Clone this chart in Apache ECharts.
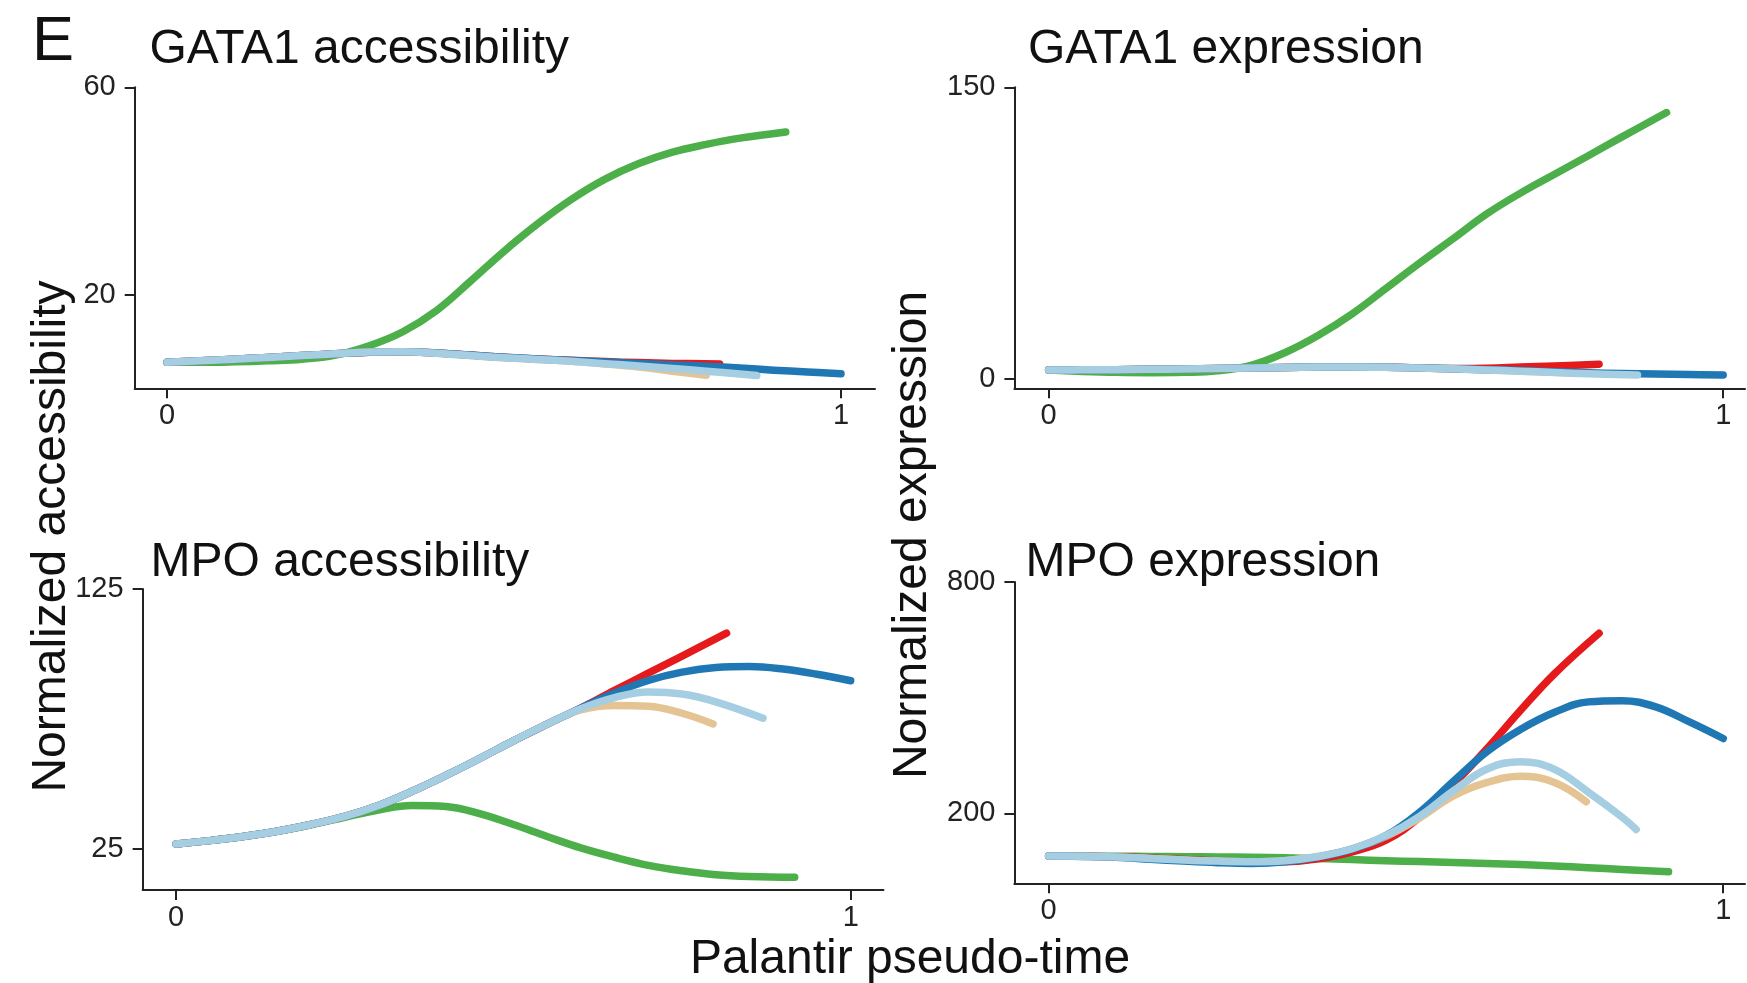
<!DOCTYPE html>
<html><head><meta charset="utf-8">
<script src="https://cdn.jsdelivr.net/npm/echarts@6/dist/echarts.min.js"></script>
<style>html,body{margin:0;padding:0;background:#fff}#c{width:1747px;height:983px}</style>
</head><body><div id="c"></div>
<script>
// ---------- DATA ----------
const xTicks = [0, 1];
const xTickLabels = ['0', '1'];

// GATA1 accessibility
const gata1AccTicks = [20, 60];
const gata1AccGreen = [[0,7.0],[0.05,7.0],[0.1,7.1],[0.15,7.3],[0.2,7.6],[0.25,8.4],[0.3,10.2],[0.35,12.9],[0.4,17.0],[0.45,22.6],[0.5,28.4],[0.55,33.7],[0.6,38.4],[0.65,42.3],[0.7,45.3],[0.75,47.5],[0.8,49.0],[0.85,50.2],[0.918,51.4]];
const gata1AccRed = [[0,7.0],[0.05,7.3],[0.1,7.6],[0.15,7.95],[0.2,8.3],[0.25,8.65],[0.3,8.95],[0.35,9.05],[0.4,8.8],[0.45,8.4],[0.5,8.0],[0.55,7.65],[0.6,7.4],[0.65,7.15],[0.7,6.95],[0.75,6.8],[0.82,6.7]];
const gata1AccTan = [[0,7.0],[0.05,7.3],[0.1,7.6],[0.15,7.95],[0.2,8.3],[0.25,8.65],[0.3,9.0],[0.35,9.05],[0.4,8.75],[0.45,8.3],[0.5,7.9],[0.55,7.55],[0.6,7.2],[0.65,6.7],[0.7,6.1],[0.75,5.3],[0.8,4.5]];
const gata1AccBlue = [[0,7.0],[0.05,7.3],[0.1,7.6],[0.15,7.95],[0.2,8.3],[0.25,8.65],[0.3,8.95],[0.35,9.05],[0.4,8.8],[0.45,8.4],[0.5,8.0],[0.55,7.65],[0.6,7.35],[0.65,7.05],[0.7,6.8],[0.75,6.5],[0.8,6.25],[0.85,5.9],[0.9,5.5],[0.95,5.15],[1.0,4.8]];
const gata1AccLightBlue = [[0,7.0],[0.05,7.3],[0.1,7.6],[0.15,7.95],[0.2,8.3],[0.25,8.65],[0.3,9.0],[0.35,9.05],[0.4,8.75],[0.45,8.3],[0.5,7.9],[0.55,7.55],[0.6,7.2],[0.65,6.75],[0.7,6.3],[0.75,5.8],[0.8,5.3],[0.875,4.45]];

// GATA1 expression
const gata1ExpTicks = [0, 150];
const gata1ExpGreen = [[0,4.6],[0.05,3.9],[0.1,3.4],[0.15,3.2],[0.2,3.4],[0.25,4.2],[0.3,7.0],[0.35,13.5],[0.4,22.5],[0.45,33.5],[0.5,46.5],[0.55,59.6],[0.6,72.2],[0.65,85.0],[0.7,95.7],[0.75,105.3],[0.8,114.8],[0.85,124.5],[0.916,137.0]];
const gata1ExpRed = [[0,4.6],[0.05,4.7],[0.1,4.8],[0.15,4.95],[0.2,5.1],[0.25,5.35],[0.3,5.6],[0.35,5.85],[0.4,6.1],[0.45,6.2],[0.5,6.0],[0.55,5.7],[0.6,5.4],[0.65,5.5],[0.7,6.1],[0.75,6.7],[0.816,7.6]];
const gata1ExpTan = [[0,4.6],[0.05,4.7],[0.1,4.8],[0.15,4.95],[0.2,5.1],[0.25,5.35],[0.3,5.6],[0.35,5.85],[0.4,6.1],[0.45,6.2],[0.5,6.0],[0.55,5.6],[0.6,5.2],[0.65,4.6],[0.7,4.0],[0.75,3.4],[0.8,2.9]];
const gata1ExpBlue = [[0,4.6],[0.05,4.7],[0.1,4.8],[0.15,4.95],[0.2,5.1],[0.25,5.35],[0.3,5.6],[0.35,5.85],[0.4,6.1],[0.45,6.2],[0.5,6.0],[0.55,5.7],[0.6,5.3],[0.65,4.8],[0.7,4.3],[0.75,3.7],[0.8,3.2],[0.85,2.8],[0.9,2.5],[0.95,2.25],[1.0,2.1]];
const gata1ExpLightBlue = [[0,4.6],[0.05,4.7],[0.1,4.8],[0.15,4.95],[0.2,5.1],[0.25,5.35],[0.3,5.6],[0.35,5.85],[0.4,6.1],[0.45,6.2],[0.5,6.0],[0.55,5.6],[0.6,5.2],[0.65,4.6],[0.7,4.0],[0.75,3.3],[0.8,2.7],[0.873,2.1]];

// MPO accessibility
const mpoAccTicks = [25, 125];
const mpoAccGreen = [[0,26.9],[0.05,28.2],[0.1,29.8],[0.15,31.8],[0.2,34.3],[0.25,37.2],[0.3,40.0],[0.35,41.7],[0.4,41.3],[0.45,38.6],[0.5,34.4],[0.55,29.8],[0.6,25.4],[0.65,21.8],[0.7,18.7],[0.75,16.6],[0.8,15.1],[0.85,14.4],[0.917,14.1]];
const mpoAccRed = [[0,26.9],[0.05,28.2],[0.1,29.8],[0.15,31.8],[0.2,34.4],[0.25,37.5],[0.3,41.7],[0.35,47.2],[0.4,53.3],[0.45,59.8],[0.5,66.6],[0.55,73.0],[0.6,79.2],[0.65,86.0],[0.7,92.6],[0.75,99.2],[0.816,108.0]];
const mpoAccTan = [[0,26.9],[0.05,28.2],[0.1,29.8],[0.15,31.8],[0.2,34.4],[0.25,37.5],[0.3,41.7],[0.35,47.2],[0.4,53.3],[0.45,59.8],[0.5,66.6],[0.55,73.0],[0.6,78.5],[0.65,80.2],[0.7,79.9],[0.75,77.2],[0.796,73.1]];
const mpoAccBlue = [[0,26.9],[0.05,28.2],[0.1,29.8],[0.15,31.8],[0.2,34.4],[0.25,37.5],[0.3,41.7],[0.35,47.2],[0.4,53.3],[0.45,59.8],[0.5,66.6],[0.55,73.0],[0.6,79.2],[0.65,85.0],[0.7,89.8],[0.75,93.0],[0.8,94.8],[0.85,95.2],[0.9,94.2],[0.95,92.2],[1.0,89.7]];
const mpoAccLightBlue = [[0,26.9],[0.05,28.2],[0.1,29.8],[0.15,31.8],[0.2,34.4],[0.25,37.5],[0.3,41.7],[0.35,47.2],[0.4,53.3],[0.45,59.8],[0.5,66.6],[0.55,73.0],[0.6,78.9],[0.65,83.2],[0.7,85.4],[0.75,84.6],[0.8,81.6],[0.87,75.3]];

// MPO expression
const mpoExpTicks = [200, 800];
const mpoExpGreen = [[0,89],[0.05,89],[0.1,88.5],[0.15,88],[0.2,87.5],[0.25,86.8],[0.3,86],[0.35,84.5],[0.4,82.5],[0.45,80],[0.5,77],[0.55,74.8],[0.6,72.5],[0.65,70],[0.7,67],[0.75,63],[0.8,59],[0.85,54.5],[0.919,48.5]];
const mpoExpRed = [[0,89],[0.05,88.5],[0.1,87],[0.15,84],[0.2,80],[0.25,76],[0.3,73],[0.35,74],[0.4,82],[0.45,100],[0.5,130],[0.55,190],[0.6,275],[0.65,368],[0.7,468],[0.75,562],[0.816,667]];
const mpoExpTan = [[0,89],[0.05,88.5],[0.1,86.5],[0.15,83],[0.2,79],[0.25,76],[0.3,74.5],[0.35,77],[0.4,88],[0.45,108],[0.5,140],[0.55,188],[0.6,245],[0.65,280],[0.7,296],[0.75,280],[0.797,230]];
const mpoExpBlue = [[0,89],[0.05,88],[0.1,86],[0.15,81],[0.2,76],[0.25,72],[0.3,70],[0.35,74],[0.4,87],[0.45,107],[0.5,142],[0.55,203],[0.6,283],[0.65,360],[0.7,418],[0.75,462],[0.8,489],[0.85,492],[0.9,476],[0.95,437],[1.0,394]];
const mpoExpLightBlue = [[0,89],[0.05,88.5],[0.1,86.5],[0.15,83],[0.2,79],[0.25,76],[0.3,74.5],[0.35,77],[0.4,88],[0.45,108],[0.5,142],[0.55,192],[0.6,258],[0.65,315],[0.7,334],[0.75,314],[0.8,255],[0.85,190],[0.871,158]];

const lineColors = ['#4daf4a', '#e41a1c', '#e5c494', '#1f78b4', '#a6cee3'];
const panelTitles = ['GATA1 accessibility', 'GATA1 expression', 'MPO accessibility', 'MPO expression'];

// ---------- LAYOUT ----------
const FONT = '"Liberation Sans", Arial, Helvetica, sans-serif';
const panels = [
  { grid: {left: 134.7, top: 87.3, width: 740.3, height: 301}, x: [-0.0479, 1.0504], y: [2, 60], ticks: gata1AccTicks,
    lines: [gata1AccGreen, gata1AccRed, gata1AccTan, gata1AccBlue, gata1AccLightBlue] },
  { grid: {left: 1014.4, top: 87.3, width: 730.6, height: 301}, x: [-0.0507, 1.0323], y: [-4.8, 150], ticks: gata1ExpTicks,
    lines: [gata1ExpGreen, gata1ExpRed, gata1ExpTan, gata1ExpBlue, gata1ExpLightBlue] },
  { grid: {left: 142.6, top: 589, width: 740.9, height: 301}, x: [-0.0495, 1.0486], y: [9.2, 125], ticks: mpoAccTicks,
    lines: [mpoAccGreen, mpoAccRed, mpoAccTan, mpoAccBlue, mpoAccLightBlue] },
  { grid: {left: 1014.4, top: 582, width: 730.6, height: 301.3}, x: [-0.0507, 1.0323], y: [18.4, 800], ticks: mpoExpTicks,
    lines: [mpoExpGreen, mpoExpRed, mpoExpTan, mpoExpBlue, mpoExpLightBlue] }
];

const axisCol = '#222';
const grids = [], xAxes = [], yAxes = [], series = [];
panels.forEach((p, i) => {
  grids.push(Object.assign({containLabel: false, outerBoundsMode: 'none'}, p.grid));
  xAxes.push({
    type: 'value', gridIndex: i, min: p.x[0], max: p.x[1],
    axisLine: {show: true, onZero: false, lineStyle: {color: axisCol, width: 2}},
    axisTick: {show: true, length: 10, lineStyle: {color: axisCol, width: 2}, customValues: xTicks},
    axisLabel: {show: true, margin: 13, fontSize: 29, color: axisCol, fontFamily: FONT, customValues: xTicks,
      formatter: v => xTickLabels[xTicks.indexOf(v)] ?? String(v)},
    splitLine: {show: false}
  });
  yAxes.push({
    type: 'value', gridIndex: i, min: p.y[0], max: p.y[1],
    axisLine: {show: true, onZero: false, lineStyle: {color: axisCol, width: 2}},
    axisTick: {show: true, length: 10, lineStyle: {color: axisCol, width: 2}, customValues: p.ticks},
    axisLabel: {show: true, margin: 19, fontSize: 29, color: axisCol, fontFamily: FONT, customValues: p.ticks},
    splitLine: {show: false}
  });
  p.lines.forEach((d, k) => {
    series.push({
      type: 'line', xAxisIndex: i, yAxisIndex: i, data: d, showSymbol: false, symbol: 'none',
      smooth: 0.4, silent: true, z: 2 + k,
      lineStyle: {width: 7.5, color: lineColors[k], cap: 'round', join: 'round'}
    });
  });
});

const txt = (text, x, y, size, opts) => Object.assign({
  type: 'text', x: x, y: y, silent: true,
  style: {text: text, font: size + 'px ' + FONT, fill: '#111', align: 'left', verticalAlign: 'middle'}
}, opts || {});

const graphics = [
  txt('E', 32, 43, 63),
  txt(panelTitles[0], 149.4, 49.5, 48),
  txt(panelTitles[1], 1028, 49.5, 48),
  txt(panelTitles[2], 150.6, 562.5, 48),
  txt(panelTitles[3], 1025.5, 563, 48),
  {type: 'text', x: 52, y: 536.5, rotation: Math.PI / 2, silent: true,
   style: {text: 'Normalized accessibility', font: '48px ' + FONT, fill: '#111', align: 'center', verticalAlign: 'middle'}},
  {type: 'text', x: 913, y: 535, rotation: Math.PI / 2, silent: true,
   style: {text: 'Normalized expression', font: '48px ' + FONT, fill: '#111', align: 'center', verticalAlign: 'middle'}},
  {type: 'text', x: 910, y: 959.5, silent: true,
   style: {text: 'Palantir pseudo-time', font: '48px ' + FONT, fill: '#111', align: 'center', verticalAlign: 'middle'}}
];

const chart = echarts.init(document.getElementById('c'), null, {renderer: 'canvas'});
chart.setOption({
  animation: false,
  backgroundColor: '#fff',
  grid: grids, xAxis: xAxes, yAxis: yAxes, series: series,
  graphic: graphics
});
</script></body></html>
